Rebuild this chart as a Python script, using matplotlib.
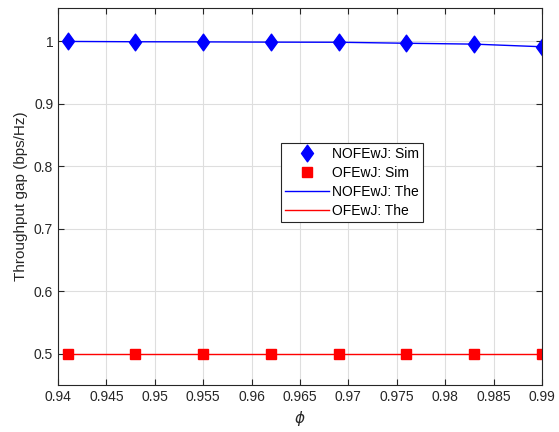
import numpy as np
import matplotlib
matplotlib.use("Agg")
import matplotlib.pyplot as plt
from matplotlib.path import Path

plt.rcParams["font.family"] = ["Liberation Sans", "DejaVu Sans"]

phi = [0.941, 0.948, 0.955, 0.962, 0.969, 0.976, 0.983, 0.990]
nofewj_sim = [0.9995, 0.999, 0.9988, 0.9984, 0.9982, 0.9966, 0.9952, 0.9910]
ofewj_sim = [0.5, 0.5, 0.5, 0.5, 0.5, 0.5, 0.5, 0.5]
nofewj_the = [0.9995, 0.999, 0.9988, 0.9984, 0.9982, 0.9966, 0.9952, 0.9910]
ofewj_the = [0.5, 0.5, 0.5, 0.5, 0.5, 0.5, 0.5, 0.5]

xticks = np.round(np.arange(0.94, 0.9901, 0.005), 3)
yticks = [0.5, 0.6, 0.7, 0.8, 0.9, 1.0]

# diamond a bit taller than wide, like MATLAB's
diamond = Path([(0, 1), (0.72, 0), (0, -1), (-0.72, 0), (0, 1)],
               [Path.MOVETO, Path.LINETO, Path.LINETO, Path.LINETO, Path.CLOSEPOLY])

fig = plt.figure(figsize=(5.59, 4.32), dpi=100)
ax = fig.add_axes([0.1038, 0.1088, 0.8658, 0.8727])

ax.plot(phi, nofewj_sim, linestyle="none", marker=diamond, ms=12, color="blue",
        label="NOFEwJ: Sim")
ax.plot(phi, ofewj_sim, linestyle="none", marker="s", ms=7.5, color="red",
        label="OFEwJ: Sim")
ax.plot(phi, nofewj_the, "-", lw=1, color="blue", label="NOFEwJ: The")
ax.plot(phi, ofewj_the, "-", lw=1, color="red", label="OFEwJ: The")

ax.set_xlim(0.94, 0.99)
ax.set_ylim(0.45, 1.053)
ax.set_xticks(xticks)
ax.set_xticklabels([f"{v:g}" for v in xticks])
ax.set_yticks(yticks)
ax.set_yticklabels([f"{v:g}" for v in yticks])

ax.grid(True, color="#dedede", lw=0.8)
ax.set_axisbelow(True)
ax.tick_params(direction="in", top=True, right=True, length=4,
               colors="#262626", labelsize=10, width=0.8)
for s in ax.spines.values():
    s.set_color("#262626")
    s.set_linewidth(0.8)

ax.set_ylabel("Throughput gap (bps/Hz)", fontsize=11, color="#262626")
ax.set_xlabel(r"$\phi$", fontsize=11, color="#262626")

leg = ax.legend(loc="upper left", bbox_to_anchor=(0.446, 0.66), fontsize=10,
                fancybox=False, edgecolor="#262626", framealpha=1,
                handlelength=3.2, borderpad=0.3, labelspacing=0.35,
                handletextpad=0.2)
leg.get_frame().set_linewidth(0.8)

fig.savefig("out.png", dpi=100)
